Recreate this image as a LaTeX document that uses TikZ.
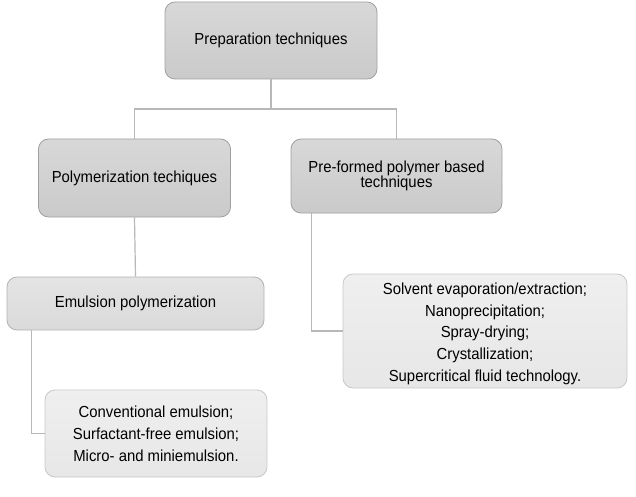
\documentclass[tikz,border=0pt]{standalone}
\usepackage{fontspec}
\setmainfont[FakeStretch=0.93]{Liberation Sans}
\usetikzlibrary{calc}
\definecolor{lineg}{HTML}{B8B8B8}
\tikzset{
  basebox/.style={rounded corners=10pt, align=center, inner sep=0pt,
    font=\fontsize{16}{21.8}\selectfont, text=black},
  darkbox/.style={basebox, draw={rgb,255:red,160;green,160;blue,160}, line width=0.8pt,
    top color={rgb,255:red,216;green,216;blue,216}, bottom color={rgb,255:red,202;green,202;blue,202}},
  midbox/.style={basebox, draw={rgb,255:red,178;green,178;blue,178}, line width=0.8pt,
    top color={rgb,255:red,228;green,228;blue,228}, bottom color={rgb,255:red,218;green,218;blue,218}},
  lightbox/.style={basebox, draw={rgb,255:red,200;green,200;blue,200}, line width=0.8pt,
    top color={rgb,255:red,239;green,239;blue,239}, bottom color={rgb,255:red,231;green,231;blue,231}},
  conn/.style={draw=lineg, line width=1.2pt}
}
\begin{document}
\begin{tikzpicture}[x=1pt,y=-1pt]
\useasboundingbox (0,0) rectangle (636,497);
\node[darkbox, minimum width=212pt, minimum height=77pt] (top) at (271,40.5) {Preparation techniques};
\node[darkbox, minimum width=192pt, minimum height=78pt] (poly) at (134.5,178) {Polymerization techiques};
\node[darkbox, minimum width=211pt, minimum height=74pt, font=\fontsize{16}{15.5}\selectfont] (pre) at (396.5,176) {Pre-formed polymer based\\techniques};
\node[midbox, minimum width=257pt, minimum height=53pt] (emul) at (135.5,303.5) {Emulsion polymerization};
\node[lightbox, minimum width=284pt, minimum height=114pt] (list) at (485,331) {\rule{0pt}{17pt}Solvent evaporation/extraction;\\Nanoprecipitation;\\Spray-drying;\\Crystallization;\\Supercritical fluid technology.};
\node[lightbox, minimum width=222pt, minimum height=87pt] (conv) at (156,433.5) {Conventional emulsion;\\Surfactant-free emulsion;\\Micro- and miniemulsion.};
\coordinate (bus) at (271,109);
\draw[conn] (top.south) -- (bus);
\draw[conn] (poly.north) |- (bus) -| (pre.north);
\draw[conn] (poly.south) -- (emul.north);
\draw[conn] ($(emul.south west)+(25,0)$) |- (conv.west);
\draw[conn] ($(pre.south west)+(21,0)$) |- (list.west);
\end{tikzpicture}
\end{document}
